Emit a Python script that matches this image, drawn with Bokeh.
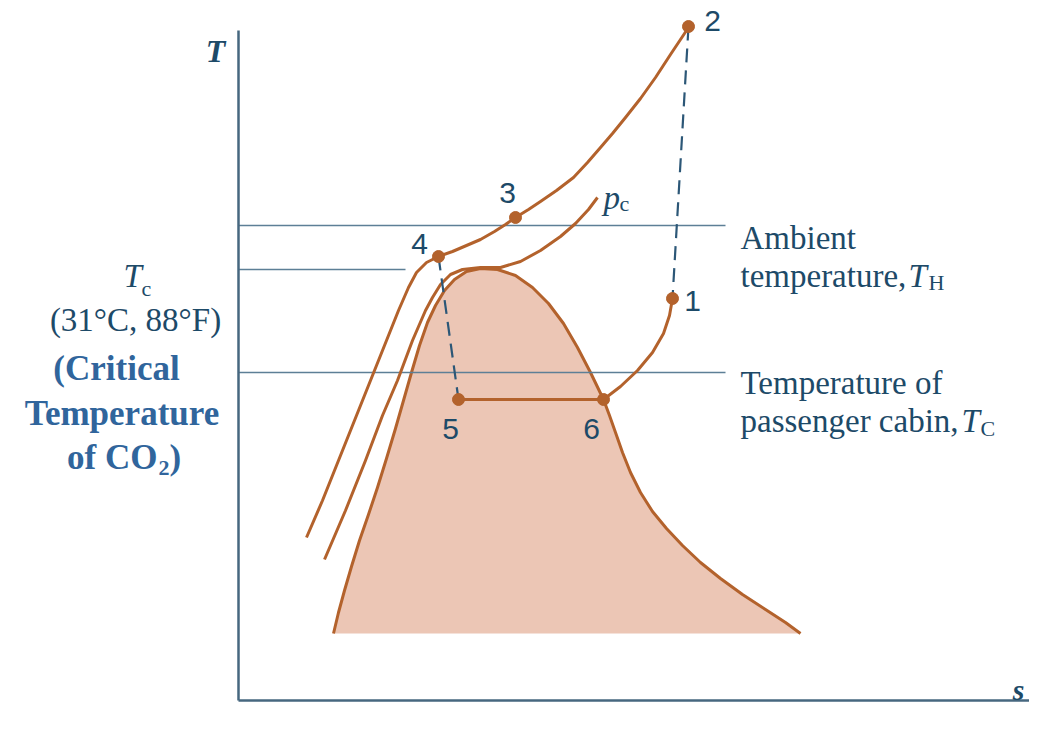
from bokeh.plotting import figure
from bokeh.models import Range1d
from bokeh.embed import file_html
from bokeh.resources import INLINE
from bokeh.core.properties import value

# ---------------- data (s = entropy, T = temperature; arbitrary schematic units) -------------
# two-phase dome (saturated liquid -> critical point -> saturated vapour)
dome_s = [0.95, 1.00, 1.06, 1.13, 1.21, 1.30, 1.39, 1.48, 1.57, 1.65, 1.73, 1.81, 1.89,
          1.97, 2.06, 2.16, 2.28, 2.42, 2.59, 2.77, 2.94, 3.10, 3.25, 3.39, 3.52, 3.65,
          3.71, 3.77, 3.84, 3.92, 4.02, 4.14, 4.28, 4.44, 4.62, 4.82, 5.04, 5.27, 5.47,
          5.62]
dome_T = [0.67, 0.88, 1.10, 1.34, 1.60, 1.86, 2.13, 2.42, 2.72, 3.00, 3.28, 3.55, 3.78,
          3.95, 4.10, 4.21, 4.29, 4.32, 4.31, 4.25, 4.13, 3.97, 3.77, 3.53, 3.28, 3.01,
          2.85, 2.68, 2.48, 2.28, 2.08, 1.89, 1.72, 1.55, 1.38, 1.22, 1.06, 0.91, 0.78,
          0.67]

# critical isobar p_c
pc_s = [0.86, 1.07, 1.27, 1.44, 1.59, 1.74, 1.87, 1.94, 2.02, 2.12, 2.24, 2.42, 2.62,
        2.82, 3.02, 3.22, 3.37, 3.50, 3.59]
pc_T = [1.41, 1.90, 2.40, 2.85, 3.20, 3.60, 3.90, 4.03, 4.16, 4.26, 4.31, 4.33, 4.33,
        4.39, 4.50, 4.64, 4.77, 4.91, 5.03]

# high-pressure (gas cooler) isobar through 4, 3, 2
hp_s = [0.68, 0.84, 1.00, 1.16, 1.32, 1.48, 1.60, 1.70, 1.78, 1.88, 2.00, 2.14, 2.28,
        2.42, 2.56, 2.67, 2.77, 2.90, 3.02, 3.18, 3.35, 3.49, 3.62, 3.74, 3.87, 4.02,
        4.17, 4.32, 4.50]
hp_T = [1.63, 2.00, 2.40, 2.80, 3.20, 3.60, 3.90, 4.13, 4.28, 4.38, 4.44, 4.49, 4.55,
        4.61, 4.69, 4.76, 4.83, 4.91, 4.99, 5.10, 5.23, 5.38, 5.53, 5.67, 5.83, 6.02,
        6.23, 6.46, 6.73]

# superheating 6 -> 1
sh_s = [3.65, 3.82, 3.99, 4.14, 4.25, 4.31, 4.34]
sh_T = [3.01, 3.14, 3.30, 3.48, 3.67, 3.85, 4.02]

# state points
state_names = ["1", "2", "3", "4", "5", "6"]
state_s = [4.34, 4.50, 2.77, 2.00, 2.20, 3.65]
state_T = [4.02, 6.74, 4.83, 4.44, 3.01, 3.01]

# reference temperatures
T_ambient = 4.75
T_critical = 4.31
T_cabin = 3.28

# ---------------- figure -------------
W, H = 1029, 717
p = figure(width=W, height=H, output_backend="svg", toolbar_location=None,
           x_range=Range1d(-2.38, 7.91), y_range=Range1d(-0.17, 7.00),
           x_axis_location=None, y_axis_location=None, min_border=0,
           background_fill_color="white", border_fill_color="white")
p.grid.visible = False
p.outline_line_color = None

BROWN = "#b3622c"
FILL = "#ecc6b5"
AXIS = "#46677f"
REF = "#5d7f96"
DASH = "#2c5777"
LABEL = "#1d4a68"
BLUE = "#30659c"

# dome fill + outline
p.patch(dome_s, dome_T, fill_color=FILL, line_color=None)
p.line(dome_s, dome_T, line_color=BROWN, line_width=3, line_join="round")

# reference horizontal lines
p.line([0, 4.87], [T_ambient, T_ambient], line_color=REF, line_width=1.6)
p.line([0, 1.67], [T_critical, T_critical], line_color=REF, line_width=1.6)
p.line([0, 4.87], [T_cabin, T_cabin], line_color=REF, line_width=1.6)

# isobars
p.line(pc_s, pc_T, line_color=BROWN, line_width=3, line_join="round")
p.line(hp_s, hp_T, line_color=BROWN, line_width=3, line_join="round")
p.line(sh_s, sh_T, line_color=BROWN, line_width=3, line_join="round")
i5, i6 = state_names.index("5"), state_names.index("6")
p.line([state_s[i5], state_s[i6]], [state_T[i5], state_T[i6]], line_color=BROWN, line_width=3)

# dashed processes 4->5 and 1->2
i1, i2, i4 = state_names.index("1"), state_names.index("2"), state_names.index("4")
p.line([state_s[i4], state_s[i5]], [state_T[i4], state_T[i5]], line_color=DASH,
       line_width=2.2, line_dash="14 8")
p.line([state_s[i2], state_s[i1]], [state_T[i2], state_T[i1]], line_color=DASH,
       line_width=2.2, line_dash="14 8")

# state points
p.scatter(state_s, state_T, size=12, fill_color=BROWN, line_color=BROWN)

# axes
p.line([0, 0], [0, 6.70], line_color=AXIS, line_width=2.5)
p.line([0, 8.10], [0, 0], line_color=AXIS, line_width=2.5)

SERIF = value("Liberation Serif")
SANS = value("Liberation Sans")


def txt(x, y, s, size, color=LABEL, font=SERIF, style="normal", align="left",
        baseline="alphabetic"):
    p.text(x=[x], y=[y], text=[s], text_font=font, text_font_size=f"{size}px",
           text_font_style=style, text_color=color, text_align=align,
           text_baseline=baseline)


# state labels
label_pos = {"1": (4.54, 4.00), "2": (4.74, 6.80), "3": (2.69, 5.08),
             "4": (1.81, 4.57), "5": (2.12, 2.72), "6": (3.53, 2.72)}
for n in state_names:
    lx, ly = label_pos[n]
    txt(lx, ly, n, 30, font=SANS, align="center", baseline="middle")

# p_c
txt(3.65, 5.03, "p", 33, style="italic")
txt(3.81, 4.97, "c", 22)

# axis labels
txt(-0.23, 6.50, "T", 32, style="bold italic", align="center")
txt(7.80, 0.11, "s", 30, style="bold italic", align="center")

# right annotations
txt(5.02, 4.63, "Ambient", 33)
txt(5.02, 4.25, "temperature,", 33)
txt(6.70, 4.25, "T", 33, style="italic")
txt(6.90, 4.18, "H", 22)
txt(5.02, 3.18, "Temperature of", 33)
txt(5.02, 2.80, "passenger cabin,", 33)
txt(7.23, 2.80, "T", 33, style="italic")
txt(7.42, 2.72, "C", 22)

# left annotations
txt(-1.15, 4.25, "T", 33, style="italic")
txt(-0.97, 4.12, "c", 22)
txt(-1.03, 3.81, "(31°C, 88°F)", 33, align="center")
txt(-1.22, 3.32, "(Critical", 35, color=BLUE, style="bold", align="center")
txt(-1.165, 2.87, "Temperature", 35, color=BLUE, style="bold", align="center")
txt(-0.81, 2.43, "of CO", 35, color=BLUE, style="bold", align="right")
txt(-0.80, 2.33, "2", 22, color=BLUE, style="bold")
txt(-0.69, 2.43, ")", 35, color=BLUE, style="bold")

open("out.html", "w").write(file_html(p, INLINE))
